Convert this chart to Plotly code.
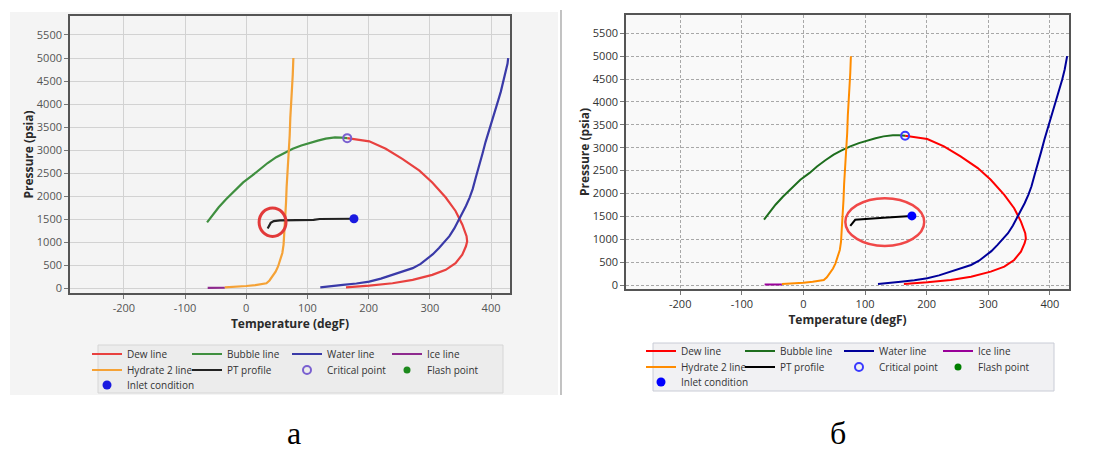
import plotly.graph_objects as go

# page body has an 8 px default margin: the figure starts at (8, 8) in the window
OFF = 8
W, H = 1102 - OFF, 453 - OFF

# ---------------- data ----------------
T_TICKS = [-200, -100, 0, 100, 200, 300, 400]
P_TICKS = [0, 500, 1000, 1500, 2000, 2500, 3000, 3500, 4000, 4500, 5000, 5500]

dew_T = [165, 201, 228, 255, 283, 304, 326, 342, 353, 360, 361, 359, 353, 342, 326, 304, 272, 239, 201, 163]
dew_P = [3260, 3190, 3029, 2810, 2555, 2299, 1971, 1679, 1387, 1131, 1020, 912, 730, 547, 401, 292, 182, 109, 58, 22]

bubble_T = [-64, -57, -45, -33, -18, -5, 10, 22, 35, 49, 62, 76, 90, 103, 117, 130, 145, 155, 165]
bubble_P = [1430, 1560, 1760, 1935, 2120, 2300, 2450, 2590, 2720, 2847, 2940, 3030, 3100, 3155, 3205, 3248, 3275, 3270, 3260]

water_T = [121, 140, 158, 180, 201, 220, 239, 255, 272, 285, 293, 305, 315, 323, 332, 340, 348, 354, 359, 365,
           370, 375, 380, 386, 391, 395, 399, 404, 408, 412, 416, 420, 424, 427, 428]
water_P = [20, 40, 73, 105, 146, 210, 292, 360, 438, 530, 620, 740, 876, 1000, 1131, 1300, 1496, 1640, 1788, 1970,
           2153, 2400, 2664, 2920, 3175, 3360, 3540, 3720, 3905, 4090, 4270, 4490, 4708, 4880, 5000]

ice_T = [-63, -50, -35]
ice_P = [10, 10, 12]

hydrate_T = [-35, -20, 0, 15, 25, 33, 38, 43, 48, 52, 56, 59, 61, 62, 63, 65, 66, 68, 70, 71, 72, 73, 75, 76, 77]
hydrate_P = [20, 30, 50, 70, 90, 110, 170, 255, 360, 474, 620, 766, 950, 1131, 1400, 1861, 2200, 2591, 3000,
             3321, 3700, 4051, 4400, 4635, 5000]

# PT profile: panel a and panel б
pt_a_T = [35, 40, 45, 55, 110, 120, 176]
pt_a_P = [1300, 1420, 1460, 1475, 1485, 1505, 1510]
pt_b_T = [76, 84, 130, 175]
pt_b_P = [1290, 1425, 1470, 1510]

crit_T = [165]
crit_P = [3260]
inlet_T = [176]
inlet_P = [1510]
flash_T = [None]
flash_P = [None]

SERIES_NAMES = ["Dew line", "Bubble line", "Water line", "Ice line",
                "Hydrate 2 line", "PT profile", "Critical point", "Flash point",
                "Inlet condition"]
PANEL_LABELS = ["а", "б"]

# ---------------- helpers (window pixels -> paper fractions) ----------------
def px_x(p):
    return (p - OFF) / W

def px_y(p):
    return 1 - (p - OFF) / H

fig = go.Figure()

panels = [
    dict(xa="x", ya="y", pt=(pt_a_T, pt_a_P), leg0=1,
         colors=dict(dew="#e8413f", bubble="#3f8f3f", water="#3a3aa8", ice="#8e2a8e",
                     hydrate="#f5a236", pt="#222222", crit="#7a60d0", flash="#1d8a1d", inlet="#1a1ae0"),
         lw=2.2, text_x=[127, 227, 327, 427], rows_y=[354, 370, 385]),
    dict(xa="x2", ya="y2", pt=(pt_b_T, pt_b_P), leg0=10,
         colors=dict(dew="#ff0000", bubble="#1e6e1e", water="#00009a", ice="#990099",
                     hydrate="#ff8c00", pt="#000000", crit="#3a3aff", flash="#008000", inlet="#0000ff"),
         lw=2.0, text_x=[681, 780, 879, 978], rows_y=[351, 367, 382]),
]

FONT = "Open Sans"
leg_font = dict(family=FONT, size=10, color="#333")
legends = {}

def leg_id(n):
    return "legend" if n == 1 else f"legend{n}"

for pn in panels:
    c = pn["colors"]
    ids = [leg_id(pn["leg0"] + i) for i in range(9)]
    slots = [(0, 0), (1, 0), (2, 0), (3, 0), (0, 1), (1, 1), (2, 1), (3, 1), (0, 2)]
    for lid, (ci, ri) in zip(ids, slots):
        legends[lid] = dict(x=px_x(pn["text_x"][ci] - 40), y=px_y(pn["rows_y"][ri]),
                            xanchor="left", yanchor="middle", orientation="h",
                            bgcolor="rgba(0,0,0,0)", borderwidth=0, font=leg_font, itemwidth=30)
    common = dict(xaxis=pn["xa"], yaxis=pn["ya"], hoverinfo="skip")
    fig.add_trace(go.Scatter(x=dew_T, y=dew_P, mode="lines", name=SERIES_NAMES[0], legend=ids[0],
                             line=dict(color=c["dew"], width=pn["lw"]), **common))
    fig.add_trace(go.Scatter(x=bubble_T, y=bubble_P, mode="lines", name=SERIES_NAMES[1], legend=ids[1],
                             line=dict(color=c["bubble"], width=pn["lw"]), **common))
    fig.add_trace(go.Scatter(x=water_T, y=water_P, mode="lines", name=SERIES_NAMES[2], legend=ids[2],
                             line=dict(color=c["water"], width=pn["lw"]), **common))
    fig.add_trace(go.Scatter(x=ice_T, y=ice_P, mode="lines", name=SERIES_NAMES[3], legend=ids[3],
                             line=dict(color=c["ice"], width=pn["lw"]), **common))
    fig.add_trace(go.Scatter(x=hydrate_T, y=hydrate_P, mode="lines", name=SERIES_NAMES[4], legend=ids[4],
                             line=dict(color=c["hydrate"], width=pn["lw"]), **common))
    fig.add_trace(go.Scatter(x=pn["pt"][0], y=pn["pt"][1], mode="lines", name=SERIES_NAMES[5], legend=ids[5],
                             line=dict(color=c["pt"], width=pn["lw"]), **common))
    fig.add_trace(go.Scatter(x=crit_T, y=crit_P, mode="markers", name=SERIES_NAMES[6], legend=ids[6],
                             marker=dict(symbol="circle-open", color=c["crit"], size=8,
                                         line=dict(width=2, color=c["crit"])), **common))
    fig.add_trace(go.Scatter(x=flash_T, y=flash_P, mode="markers", name=SERIES_NAMES[7], legend=ids[7],
                             marker=dict(symbol="circle", color=c["flash"], size=7), **common))
    fig.add_trace(go.Scatter(x=inlet_T, y=inlet_P, mode="markers", name=SERIES_NAMES[8], legend=ids[8],
                             marker=dict(symbol="circle", color=c["inlet"], size=9), **common))

# ---------------- axes ----------------
title_font = dict(family=FONT, size=12, color="#2a2a2a")

def xaxis_cfg(domain, grid_dash, gridcolor, anchor, tcol):
    return dict(domain=domain, range=[-288, 431], tickvals=T_TICKS, ticktext=[str(v) for v in T_TICKS],
                showgrid=True, gridcolor=gridcolor, griddash=grid_dash, gridwidth=1, zeroline=False,
                showline=True, mirror=True, linecolor="#555", linewidth=1.6, anchor=anchor,
                automargin=False, ticks="outside", ticklen=4, tickcolor="#777",
                tickfont=dict(family=FONT, size=11, color=tcol),
                title=dict(text="<b>Temperature (degF)</b>", font=title_font, standoff=4))

def yaxis_cfg(domain, rng, grid_dash, gridcolor, anchor, tcol):
    return dict(domain=domain, range=rng, tickvals=P_TICKS, ticktext=[str(v) for v in P_TICKS],
                showgrid=True, gridcolor=gridcolor, griddash=grid_dash, gridwidth=1, zeroline=False,
                showline=True, mirror=True, linecolor="#555", linewidth=1.6, anchor=anchor,
                automargin=False, ticks="outside", ticklen=4, tickcolor="#777",
                tickfont=dict(family=FONT, size=11, color=tcol),
                title=dict(text="<b>Pressure (psia)</b>", font=title_font, standoff=0))

xa1 = xaxis_cfg([px_x(70), px_x(510)], "solid", "#d2d2d2", "y", "#555")
ya1 = yaxis_cfg([px_y(293), px_y(16)], [-102, 5912], "solid", "#d2d2d2", "x", "#555")
xa2 = xaxis_cfg([px_x(626), px_x(1069)], "3px,2px", "#a8a8a8", "y2", "#333")
ya2 = yaxis_cfg([px_y(289), px_y(15)], [-87, 5900], "3px,2px", "#a8a8a8", "x2", "#333")

# ---------------- decorative shapes ----------------
HIGHLIGHT_A = dict(x0=21, x1=65, y0=1126, y1=1744)
HIGHLIGHT_B = dict(x0=68, x1=196, y0=854, y1=1898)

shapes = [
    dict(type="rect", xref="paper", yref="paper", x0=px_x(10), x1=px_x(558), y0=px_y(395), y1=px_y(12),
         fillcolor="#f4f4f4", line=dict(width=0), layer="below"),
    dict(type="line", xref="paper", yref="paper", x0=px_x(561), x1=px_x(561), y0=px_y(395), y1=px_y(10),
         line=dict(color="#9a9a9a", width=1.2)),
    dict(type="rect", xref="paper", yref="paper", x0=px_x(98), x1=px_x(503), y0=px_y(393), y1=px_y(345),
         fillcolor="#ececec", line=dict(color="#d6d6d6", width=1), layer="below"),
    dict(type="rect", xref="paper", yref="paper", x0=px_x(653), x1=px_x(1054), y0=px_y(391), y1=px_y(343),
         fillcolor="#f1f1f3", line=dict(color="#c9ccd6", width=1), layer="below"),
    dict(type="circle", xref="x", yref="y", line=dict(color="#e23a3a", width=3), **HIGHLIGHT_A),
    dict(type="circle", xref="x2", yref="y2", line=dict(color="#f04848", width=2.5), **HIGHLIGHT_B),
]

annotations = [
    dict(text=PANEL_LABELS[0], x=px_x(294), y=px_y(453), xref="paper", yref="paper", showarrow=False,
         xanchor="center", yanchor="bottom", font=dict(family="Liberation Serif", size=32, color="#000")),
    dict(text=PANEL_LABELS[1], x=px_x(838), y=px_y(453), xref="paper", yref="paper", showarrow=False,
         xanchor="center", yanchor="bottom", font=dict(family="Liberation Serif", size=32, color="#000")),
]

fig.update_layout(
    width=W, height=H, autosize=False,
    margin=dict(l=0, r=0, t=0, b=0, autoexpand=False),
    paper_bgcolor="white", plot_bgcolor="#f9f9f9",
    xaxis=xa1, yaxis=ya1, xaxis2=xa2, yaxis2=ya2,
    shapes=shapes, annotations=annotations,
    showlegend=True,
    **legends,
)

fig.write_html("out.html")
